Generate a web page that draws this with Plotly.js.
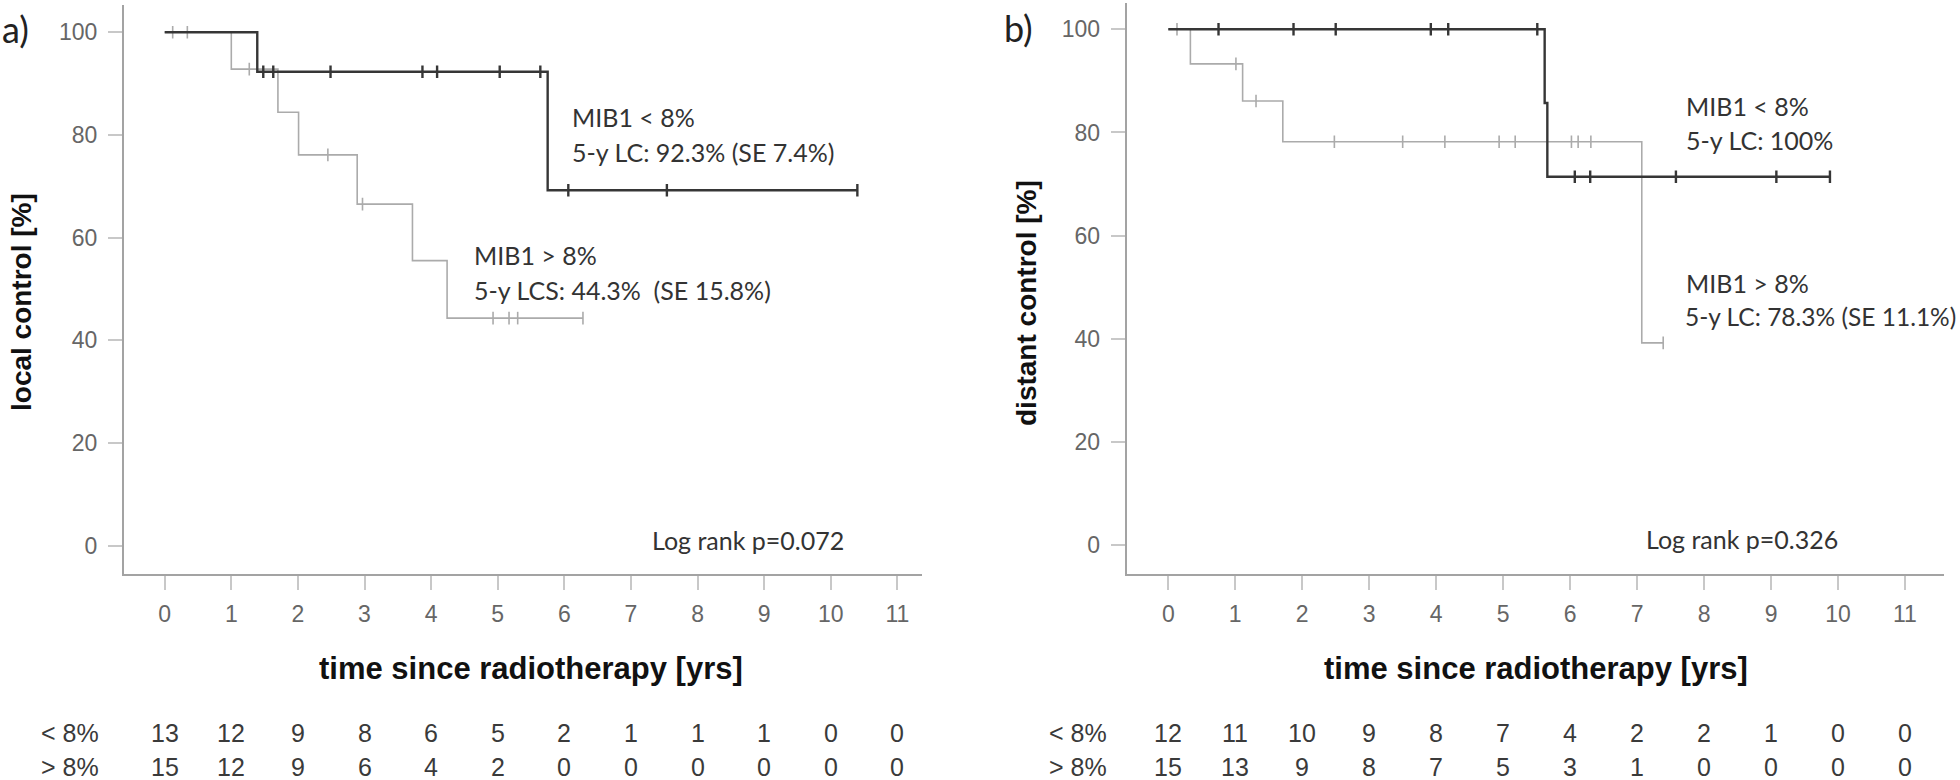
<!DOCTYPE html>
<html>
<head>
<meta charset="utf-8">
<script src="https://cdn.plot.ly/plotly-3.0.1.min.js"></script>
<style>
html,body{margin:0;padding:0;background:#fff;}
#chart{width:1960px;height:780px;}
</style>
</head>
<body>
<div id="chart"></div>
<script>
// ---------- DATA ----------
// Panel a) local control
const aLowEventTimes  = [1.39, 5.75];
const aLowEventSurv   = [92.3, 69.2];
const aLowCensor      = [1.48, 1.63, 2.49, 3.87, 4.09, 5.03, 5.64, 6.06, 7.54, 10.40];
const aLowEnd         = 10.40;

const aHighEventTimes = [1.00, 1.70, 2.01, 2.89, 3.72, 4.24];
const aHighEventSurv  = [92.8, 84.4, 76.1, 66.5, 55.5, 44.3];
const aHighCensor     = [0.12, 0.34, 1.27, 2.45, 2.97, 4.93, 5.17, 5.30, 6.28];
const aHighEnd        = 6.28;

// Panel b) distant control
const bLowEventTimes  = [5.62, 5.66];
const bLowEventSurv   = [85.7, 71.4];
const bLowCensor      = [0.75, 1.87, 2.50, 3.92, 4.18, 5.51, 6.07, 6.30, 7.58, 9.08, 9.88];
const bLowEnd         = 9.88;

const bHighEventTimes = [0.33, 1.11, 1.71, 7.07];
const bHighEventSurv  = [93.3, 86.1, 78.2, 39.2];
const bHighCensor     = [0.13, 1.01, 1.31, 2.48, 3.50, 4.13, 4.94, 5.18, 6.02, 6.12, 6.31, 7.39];
const bHighEnd        = 7.39;

// Axis ticks
const xTicks = [0,1,2,3,4,5,6,7,8,9,10,11];
const yTicks = [0,20,40,60,80,100];

// Numbers at risk
const riskLabels = ['< 8%', '> 8%'];
const riskALow  = [13,12,9,8,6,5,2,1,1,1,0,0];
const riskAHigh = [15,12,9,6,4,2,0,0,0,0,0,0];
const riskBLow  = [12,11,10,9,8,7,4,2,2,1,0,0];
const riskBHigh = [15,13,9,8,7,5,3,1,0,0,0,0];

// Texts
const panelLabels = ['a)', 'b)'];
const yTitles = ['local control [%]', 'distant control [%]'];
const xTitle = 'time since radiotherapy [yrs]';
const aLowText  = ['MIB1 < 8%', '5-y LC: 92.3% (SE 7.4%)'];
const aHighText = ['MIB1 > 8%', '5-y LCS: 44.3%  (SE 15.8%)'];
const bLowText  = ['MIB1 < 8%', '5-y LC: 100%'];
const bHighText = ['MIB1 > 8%', '5-y LC: 78.3% (SE 11.1%)'];
const logRankA = 'Log rank p=0.072';
const logRankB = 'Log rank p=0.326';

// ---------- HELPERS ----------
const W = 1960, H = 780;
const px = v => v / W;
const py = v => 1 - v / H;

function stepXY(times, surv, end) {
  const x = [0], y = [100];
  for (let i = 0; i < times.length; i++) { x.push(times[i]); y.push(surv[i]); }
  x.push(end); y.push(surv.length ? surv[surv.length - 1] : 100);
  return {x, y};
}
function survAt(t, times, surv) {
  let s = 100;
  for (let i = 0; i < times.length; i++) if (times[i] <= t) s = surv[i];
  return s;
}

const DARK = '#363636', LIGHT = '#ababab';

function curveTraces(times, surv, end, censor, color, width, xa, ya) {
  const st = stepXY(times, surv, end);
  return [
    {x: st.x, y: st.y, xaxis: xa, yaxis: ya, mode: 'lines', type: 'scatter',
     line: {shape: 'hv', color: color, width: width}, hoverinfo: 'skip'},
    {x: censor, y: censor.map(t => survAt(t, times, surv)), xaxis: xa, yaxis: ya,
     mode: 'markers', type: 'scatter', hoverinfo: 'skip',
     marker: {symbol: 'line-ns', size: 9, color: color, line: {color: color, width: width}}}
  ];
}

const data = [].concat(
  curveTraces(aHighEventTimes, aHighEventSurv, aHighEnd, aHighCensor, LIGHT, 1.6, 'x', 'y'),
  curveTraces(aLowEventTimes, aLowEventSurv, aLowEnd, aLowCensor, DARK, 2.4, 'x', 'y'),
  curveTraces(bHighEventTimes, bHighEventSurv, bHighEnd, bHighCensor, LIGHT, 1.6, 'x2', 'y2'),
  curveTraces(bLowEventTimes, bLowEventSurv, bLowEnd, bLowCensor, DARK, 2.4, 'x2', 'y2')
);

const tickFont = {family: 'Liberation Sans, Arial, sans-serif', size: 23, color: '#666666'};
function xAxis(domain, range, anchor) {
  return {domain: domain, range: range, anchor: anchor, tickvals: xTicks, ticktext: xTicks.map(String),
    ticks: 'outside', ticklen: 14, tickwidth: 2, tickcolor: '#c8c8c8',
    showline: true, linecolor: '#a3a3a3', linewidth: 2, showgrid: false, zeroline: false,
    tickfont: tickFont, ticklabelstandoff: 4, fixedrange: true};
}
function yAxis(domain, range, anchor) {
  return {domain: domain, range: range, anchor: anchor, tickvals: yTicks, ticktext: yTicks.map(String),
    ticks: 'outside', ticklen: 14, tickwidth: 2, tickcolor: '#c8c8c8',
    showline: true, linecolor: '#a3a3a3', linewidth: 2, showgrid: false, zeroline: false,
    tickfont: tickFont, ticklabelstandoff: 6, fixedrange: true};
}

const annFont = {family: 'Lato, Open Sans, sans-serif', size: 25, color: '#333333'};
const annotations = [];
function addText(text, x, y, opts) {
  annotations.push(Object.assign({text: text, x: px(x), y: py(y), xref: 'paper', yref: 'paper',
    xanchor: 'left', yanchor: 'middle', showarrow: false, font: annFont}, opts || {}));
}

// panel labels
addText(panelLabels[0], 0, 29, {font: {family: 'Lato, sans-serif', size: 36, color: '#222'}});
addText(panelLabels[1], 1002, 28, {font: {family: 'Lato, sans-serif', size: 36, color: '#222'}});

// y titles
const yTitleFont = {family: 'Liberation Sans, Arial, sans-serif', size: 28, color: '#111'};
addText('<b>' + yTitles[0] + '</b>', 22, 302, {xanchor: 'center', textangle: -90, font: yTitleFont});
addText('<b>' + yTitles[1] + '</b>', 1027, 303, {xanchor: 'center', textangle: -90, font: yTitleFont});

// x titles
const xTitleFont = {family: 'Liberation Sans, Arial, sans-serif', size: 31, color: '#111'};
addText('<b>' + xTitle + '</b>', 531, 668, {xanchor: 'center', font: xTitleFont});
addText('<b>' + xTitle + '</b>', 1536, 668, {xanchor: 'center', font: xTitleFont});

// group texts
addText(aLowText[0], 570, 117); addText(aLowText[1], 570, 152);
addText(aHighText[0], 472, 255); addText(aHighText[1], 472, 290);
addText(bLowText[0], 1684, 106); addText(bLowText[1], 1684, 140);
addText(bHighText[0], 1684, 283);
addText(bHighText[1], 1683, 316, {font: Object.assign({}, annFont, {size: 24.5})});
addText(logRankA, 650, 540);
addText(logRankB, 1644, 539);

// numbers at risk
const riskFont = {family: 'Liberation Sans, Arial, sans-serif', size: 25, color: '#3a3a3a'};
const rowY = [733, 767];
function riskRows(lowArr, highArr, xref, labelX) {
  [lowArr, highArr].forEach((arr, r) => {
    addText(riskLabels[r], labelX, rowY[r], {font: riskFont});
    arr.forEach((n, i) => {
      annotations.push({text: String(n), x: xTicks[i], xref: xref, y: py(rowY[r]), yref: 'paper',
        xanchor: 'center', yanchor: 'middle', showarrow: false, font: riskFont});
    });
  });
}
riskRows(riskALow, riskAHigh, 'x', 39);
riskRows(riskBLow, riskBHigh, 'x2', 1047);

const layout = {
  width: W, height: H,
  margin: {l: 0, r: 0, t: 0, b: 0, pad: 0},
  paper_bgcolor: '#ffffff', plot_bgcolor: '#ffffff',
  showlegend: false,
  xaxis:  xAxis([px(124), px(921.7)], [-0.611, 11.366], 'y'),
  yaxis:  yAxis([py(574), py(5)], [-5.55, 105.3], 'x'),
  xaxis2: xAxis([px(1126.7), px(1944)], [-0.621, 11.583], 'y2'),
  yaxis2: yAxis([py(574), py(3)], [-5.62, 105.1], 'x2'),
  annotations: annotations
};

Plotly.newPlot('chart', data, layout, {displayModeBar: false, staticPlot: true});
</script>
</body>
</html>
